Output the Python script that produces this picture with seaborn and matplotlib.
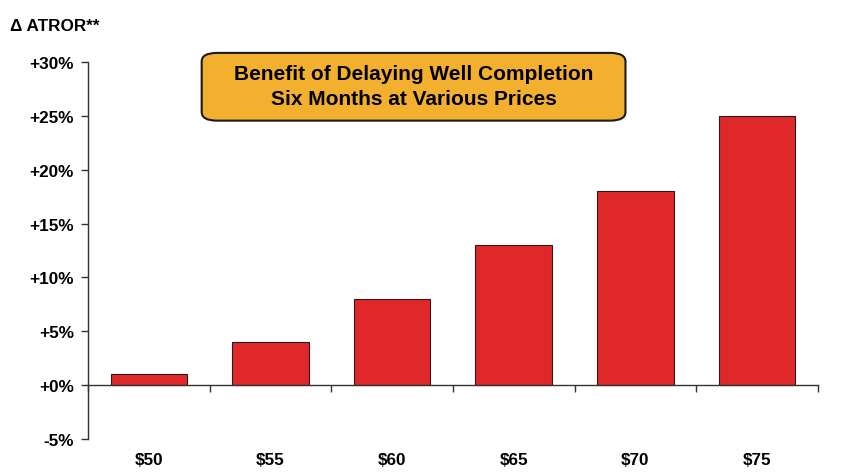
import numpy as np
import pandas as pd
import matplotlib.pyplot as plt
import seaborn as sns
from matplotlib.patches import FancyBboxPatch

# Data
prices = ['$50', '$55', '$60', '$65', '$70', '$75']
atror_gain = [1, 4, 8, 13, 18, 25]
y_ticks = [-5, 0, 5, 10, 15, 20, 25, 30]
y_labels = ['-5%', '+0%', '+5%', '+10%', '+15%', '+20%', '+25%', '+30%']

sns.set_style('white')
plt.rcParams['font.family'] = ['Liberation Sans', 'DejaVu Sans']
plt.rcParams['text.color'] = 'black'
plt.rcParams['ytick.labelcolor'] = 'black'

df = pd.DataFrame({'price': prices, 'gain': atror_gain})

fig = plt.figure(figsize=(8.51, 4.77), dpi=100)
ax = fig.add_axes([0.1034, 0.0776, 0.8578, 0.7904])

sns.barplot(data=df, x='price', y='gain', color='#E0282A', width=0.63,
            edgecolor='#2a1a1a', linewidth=0.8, saturation=1, ax=ax)

ax.set_xlim(-0.5, len(prices) - 0.5)
ax.set_ylim(-5, 30)
ax.set_xlabel('')
ax.set_ylabel('')

# axes styling: left spine plus a zero line with category boundary ticks
for s in ['top', 'right']:
    ax.spines[s].set_visible(False)
ax.spines['bottom'].set_position(('data', 0))
ax.spines['left'].set_color('#333333')
ax.spines['bottom'].set_color('#333333')
ax.spines['left'].set_linewidth(1.0)
ax.spines['bottom'].set_linewidth(1.0)

ax.set_yticks(y_ticks)
ax.set_yticklabels(y_labels, fontsize=12.3, fontweight='bold', color='black')
ax.tick_params(axis='y', direction='out', length=5, width=1, color='#333333', pad=5, left=True)

ax.set_xticks(np.arange(-0.5, len(prices), 1))
ax.set_xticklabels([])
ax.tick_params(axis='x', direction='out', length=5, width=1, color='#333333', bottom=True)

for i, p in enumerate(prices):
    ax.text(i, -0.055, p, transform=ax.get_xaxis_transform(), ha='center', va='center',
            fontsize=12.3, fontweight='bold', color='black')

fig.text(0.012, 0.944, '\u0394 ATROR**', ha='left', va='center', fontsize=12.3,
         fontweight='bold', color='black')

box = FancyBboxPatch((0.237, 0.745), 0.498, 0.142, boxstyle='round,pad=0,rounding_size=0.018',
                     transform=fig.transFigure, facecolor='#F2B02E', edgecolor='#1a1a1a',
                     linewidth=1.5, zorder=5)
fig.patches.append(box)
fig.text(0.486, 0.8176, 'Benefit of Delaying Well Completion\nSix Months at Various Prices',
         ha='center', va='center', fontsize=15, fontweight='bold', linespacing=1.4,
         color='black', zorder=6)

fig.savefig('out.png', dpi=100)
